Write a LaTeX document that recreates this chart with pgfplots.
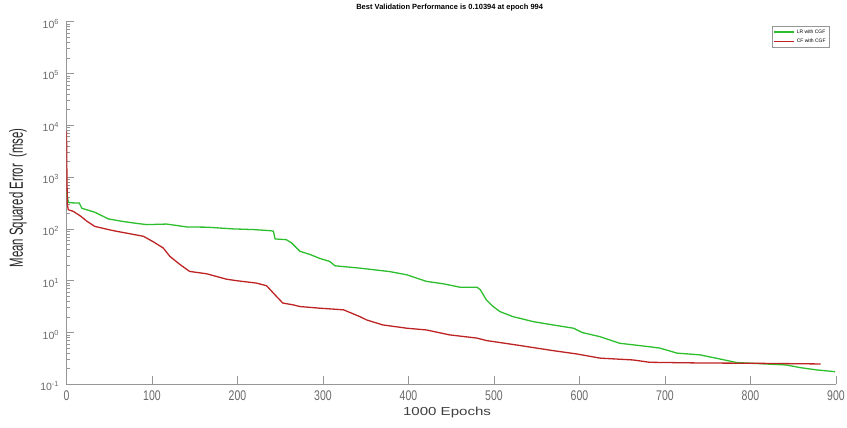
\documentclass[border=0pt]{standalone}
\usepackage{fontspec}
\setmainfont{Liberation Sans}
\newfontfamily\narrowfont[FakeStretch=0.75]{Liberation Sans}
\newfontfamily\ylabfont[FakeStretch=0.6]{Liberation Sans}
\newfontfamily\widefont[FakeStretch=1.3]{Liberation Sans}
\usepackage{pgfplots}
\pgfplotsset{compat=1.18}
\definecolor{lrgreen}{RGB}{45,190,45}
\definecolor{cfred}{RGB}{190,35,35}
\definecolor{axgray}{RGB}{150,150,150}
\definecolor{lblgray}{RGB}{105,105,105}
\begin{document}
\begin{tikzpicture}[x=1pt,y=1pt]
\path[use as bounding box] (0,0) rectangle (847,-428);
\begin{axis}[
  at={(66.5pt,-384.3pt)}, anchor=south west,
  scale only axis, width=769.5pt, height=362.6pt,
  ymode=log, xmin=0, xmax=900, ymin=0.1, ymax=1e6,
  /pgf/number format/assume math mode=true,
  axis lines*=left,
  axis line style={-, axgray, line width=0.8pt},
  tick style={axgray, line width=0.6pt},
  tick align=inside,
  major tick length=8pt, minor tick length=4pt,
  xtick={0,100,200,300,400,500,600,700,800,900},
  xticklabel style={font=\narrowfont\fontsize{14}{14}\selectfont, text=lblgray, yshift=-3pt},
  ytick={0.1,1,10,100,1000,10000,100000,1000000},
  yticklabels={10\textsuperscript{-1},10\textsuperscript{0},10\textsuperscript{1},10\textsuperscript{2},10\textsuperscript{3},10\textsuperscript{4},10\textsuperscript{5},10\textsuperscript{6}},
  minor ytick={0.2,0.3,0.4,0.5,0.6,0.7,0.8,0.9,2,3,4,5,6,7,8,9,20,30,40,50,60,70,80,90,200,300,400,500,600,700,800,900,2000,3000,4000,5000,6000,7000,8000,9000,20000,30000,40000,50000,60000,70000,80000,90000,200000,300000,400000,500000,600000,700000,800000,900000},
  yticklabel style={font=\fontsize{10.5}{10.5}\selectfont, text=lblgray, xshift=-4pt, yshift=-2pt},
  title={Best Validation Performance is 0.10394 at epoch 994},
  title style={at={(axis description cs:0.498,1.0226)}, anchor=center, font=\bfseries\fontsize{7.5}{8}\selectfont},
  xlabel={1000 Epochs},
  xlabel style={at={(axis description cs:0.4945,-0.0764)}, anchor=center, font=\widefont\fontsize{11.6}{12}\selectfont, text=black!75},
  ylabel={Mean Squared Error\ \ (mse)},
  ylabel style={at={(axis description cs:-0.063,0.514)}, anchor=center, font=\ylabfont\fontsize{19}{20}\selectfont, text=black!85},
  legend style={name=leg, at={(0.991,0.988)}, anchor=north east, draw=none, fill=white, font=\fontsize{5}{6}\selectfont, inner sep=1.2pt, row sep=0pt, cells={anchor=west}},
  legend image code/.code={\draw[#1] (0pt,0pt) -- (20pt,0pt);},
  clip=true,
]
\addlegendimage{color=lrgreen, line width=1.2pt}
\addlegendentry{LR with CGF}
\addlegendimage{color=cfred, line width=1.2pt}
\addlegendentry{CF with CGF}
\addplot[color=lrgreen, line width=1.3pt, forget plot] coordinates {
(0,525) (2,340) (3,320) (15,315) (18,250) (33,210) (49,156) (65,140) (80,129)
(94,121) (117,124) (141,109) (164,108) (195,100) (219,97) (240,92)
(242,90) (244,64) (257,62) (263,54) (273,37) (285,32) (296,27) (308,23.5)
(314,19.4) (343,17.5) (378,15.0) (398,13) (421,9.7) (441,8.7) (460,7.5)
(480,7.5) (484,6.7) (491,4.27) (499,3.17) (507,2.53) (522,2.03) (546,1.62)
(569,1.40) (593,1.21) (603,1.0) (624,0.83) (647,0.62) (682,0.53) (694,0.50)
(714,0.40) (741,0.37) (784,0.263) (842,0.236) (858,0.21) (877,0.19) (899,0.175)
};
\addplot[color=cfred, line width=1.3pt, forget plot] coordinates {
(0,7700) (0.5,1000) (1,300) (2,235) (8,218) (17,174) (24,140) (33,112)
(49,97) (60,89) (70,83) (90,72) (101,57) (113,43) (121,29.4) (133,20.4)
(144,15.1) (164,13.6) (187,10.7) (199,10.0) (222,9.0) (234,8.0) (242,5.75)
(253,3.7) (265,3.42) (273,3.17) (296,2.95) (324,2.74) (343,2.03) (351,1.75)
(370,1.40) (398,1.21) (421,1.12) (448,0.90) (480,0.78) (491,0.70) (526,0.575)
(569,0.447) (597,0.385) (624,0.32) (663,0.295) (682,0.266) (741,0.258)
(799,0.255) (882,0.247)
};
\end{axis}
\draw[axgray, line width=0.6pt] (leg.south west) rectangle (leg.north east);
\end{tikzpicture}
\end{document}
